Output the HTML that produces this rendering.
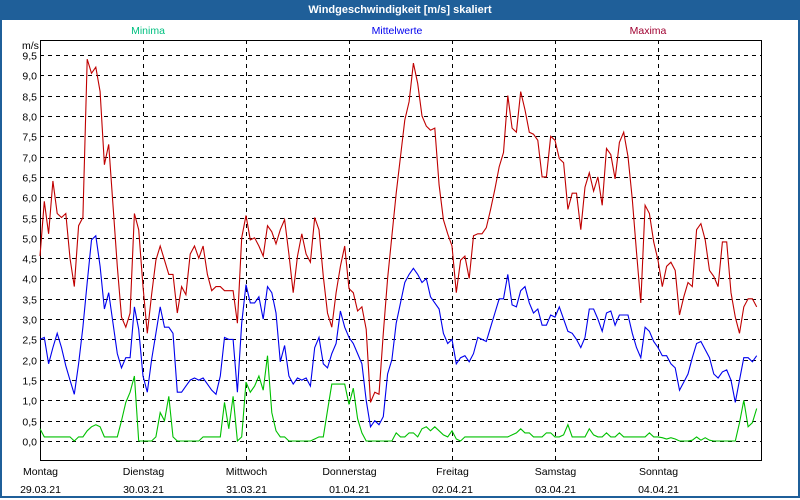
<!DOCTYPE html>
<html><head><meta charset="utf-8"><style>
body{margin:0;width:800px;height:500px;overflow:hidden;background:#fff;font-family:"Liberation Sans",sans-serif}
#frame{position:absolute;left:0;top:0;width:796px;height:496px;border:2px solid #1f5f99;border-top:none}
#titlebar{position:absolute;left:0;top:0;width:800px;height:20px;background:#1f5f99;color:#fff;font-weight:bold;font-size:11px;text-align:center;line-height:20px}
svg{position:absolute;left:0;top:0}
</style></head><body>
<div id="frame"></div>
<div id="titlebar">Windgeschwindigkeit [m/s] skaliert</div>
<svg id="chart" width="800" height="500"></svg>
<script>
const days=["Montag","Dienstag","Mittwoch","Donnerstag","Freitag","Samstag","Sonntag"];
const dates=["29.03.21","30.03.21","31.03.21","01.04.21","02.04.21","03.04.21","04.04.21"];
const yTicks=[0,0.5,1,1.5,2,2.5,3,3.5,4,4.5,5,5.5,6,6.5,7,7.5,8,8.5,9,9.5];
const maxima=[4.55,5.9,5.1,6.4,5.6,5.5,5.6,4.5,3.8,5.3,5.5,9.4,9.05,9.2,8.6,6.8,7.3,5.8,4.3,3.05,2.8,3.15,5.6,5.2,
3.8,2.65,3.6,4.45,4.8,4.45,4.1,4.1,3.15,3.8,3.6,4.6,4.8,4.5,4.8,4.1,3.7,3.8,3.8,3.7,3.7,3.7,2.9,5.0,
5.55,4.95,5.0,4.8,4.55,5.3,5.15,4.85,5.2,5.45,4.6,3.65,4.55,5.1,4.6,4.4,5.5,5.2,4.05,3.15,2.8,3.65,4.3,4.8,
3.75,3.65,3.2,3.3,2.75,0.95,1.2,1.15,2.65,4.0,5.05,6.1,7.0,7.9,8.35,9.3,8.8,8.0,7.75,7.65,7.7,6.3,5.45,5.1,
4.8,3.65,4.45,4.55,4.0,5.05,5.1,5.1,5.25,5.7,6.2,6.75,7.1,8.5,7.7,7.6,8.6,8.15,7.6,7.55,7.4,6.5,6.5,7.5,
7.4,6.95,6.85,5.7,6.1,6.1,5.2,6.25,6.6,6.15,6.5,5.8,7.2,7.05,6.45,7.35,7.6,7.0,5.95,4.65,3.4,5.8,5.6,4.9,
4.45,3.8,4.3,4.4,4.2,3.1,3.55,3.9,3.8,5.2,5.35,4.95,4.2,4.05,3.8,4.9,4.9,3.65,3.05,2.65,3.3,3.5,3.5,3.3];
const mittel=[2.5,2.55,1.9,2.3,2.65,2.3,1.85,1.5,1.15,1.9,2.8,3.9,4.95,5.05,4.3,3.25,3.65,2.9,2.15,1.8,2.05,2.05,3.3,2.75,
1.6,1.2,2.0,2.65,3.3,2.8,2.8,2.65,1.2,1.2,1.35,1.5,1.55,1.5,1.55,1.4,1.25,1.15,1.6,2.55,2.5,2.5,1.2,2.9,
3.85,3.4,3.4,3.55,3.0,3.8,3.65,3.15,1.95,2.35,1.6,1.4,1.55,1.5,1.55,1.35,2.3,2.55,1.9,1.8,2.15,2.4,3.2,2.8,
2.55,2.4,2.15,1.9,1.0,0.35,0.5,0.4,0.6,1.65,2.0,2.9,3.4,3.9,4.1,4.25,4.1,3.9,4.0,3.55,3.4,3.25,2.65,2.4,
2.5,1.9,2.05,2.1,1.95,2.15,2.55,2.5,2.45,2.8,3.15,3.5,3.5,4.1,3.35,3.3,3.7,3.8,3.4,3.15,3.25,2.85,2.85,3.1,
3.05,3.3,3.0,2.7,2.65,2.5,2.3,2.55,3.25,3.25,3.0,2.7,3.15,3.2,2.85,3.1,3.1,3.1,2.65,2.3,2.05,2.8,2.7,2.45,
2.3,2.1,2.1,1.9,1.8,1.25,1.45,1.65,2.05,2.4,2.45,2.25,2.05,1.65,1.55,1.7,1.75,1.5,0.95,1.5,2.05,2.05,1.95,2.1];
const minima=[0.3,0.1,0.1,0.1,0.1,0.1,0.1,0.1,0,0.1,0.1,0.25,0.35,0.4,0.35,0.1,0.1,0.1,0.1,0.5,0.95,1.2,1.6,0,
0,0,0,0.1,0.7,0.5,1.1,0.1,0,0,0,0,0,0,0.1,0.1,0.1,0.1,0.1,0.95,0.3,1.1,0,0.1,
1.45,1.2,1.35,1.6,1.25,2.1,0.7,0.25,0.1,0.1,0,0,0,0,0,0,0.05,0.1,0.1,0.75,1.4,1.4,1.4,1.4,
0.9,1.3,0.55,0.2,0,0,0,0,0,0,0,0.2,0.1,0.1,0.2,0.2,0.1,0.3,0.35,0.25,0.35,0.25,0.15,0.1,
0.25,0.05,0,0.1,0.1,0.1,0.1,0.1,0.1,0.1,0.1,0.1,0.1,0.1,0.15,0.2,0.3,0.2,0.2,0.1,0.1,0.1,0.2,0.2,
0.1,0.1,0.15,0.4,0.1,0.1,0.1,0.1,0.3,0.15,0.1,0.1,0.2,0.1,0.1,0.2,0.1,0.1,0.1,0.1,0.1,0.1,0.2,0.1,
0.1,0.08,0.05,0.08,0.05,0,0,0,0.02,0.1,0.02,0.08,0.02,0,0,0,0,0,0,0.45,1.0,0.35,0.45,0.8];
const NS="http://www.w3.org/2000/svg";
const svg=document.getElementById('chart');
const L=40,R=761,T=40,B=460;
const hourW=103/24;
function xs(i){return L+i*hourW;}
function ys(v){return 441-v*40.63;}
function mk(tag,attrs,parent){const e=document.createElementNS(NS,tag);for(const k in attrs)e.setAttribute(k,attrs[k]);(parent||svg).appendChild(e);return e;}
// grid
yTicks.forEach(v=>{
 const y=Math.round(ys(v))+0.5;
 const g=mk('line',{x1:L,x2:R,y1:y,y2:y,stroke:'#000','stroke-dasharray':'4,4'});
 
 
 const t=mk('text',{x:37,y:y+4,'text-anchor':'end','font-size':'10.5',fill:'#000'});
 t.textContent=v.toFixed(1).replace('.',',');
 
 
});
days.forEach((d,i)=>{
 const x=Math.round(L+i*103)+0.5;
 if(i>0){
  const g=mk('line',{x1:x,x2:x,y1:T,y2:B,stroke:'#000','stroke-dasharray':'4,4'});
  
  
 }
 const t=mk('text',{x:x,y:475,'text-anchor':'middle','font-size':'10.5',fill:'#000'});
 t.textContent=d;
 
 
 const t2=mk('text',{x:x,y:493,'text-anchor':'middle','font-size':'10.5',fill:'#000'});
 t2.textContent=dates[i];
 
 
});
const box=mk('rect',{x:L+0.5,y:T+0.5,width:R-L,height:B-T,fill:'none',stroke:'#000'});


const unit=mk('text',{x:22,y:49,'font-size':'10.5',fill:'#000'});
unit.textContent='m/s';


function series(arr,color,name){
 const p=mk('polyline',{points:arr.map((v,i)=>xs(i).toFixed(1)+','+ys(v).toFixed(1)).join(' '),fill:'none',stroke:color,'stroke-width':'1.1'});
 
 
}
series(minima,'#00c000','minima-line');
series(mittel,'#0000ee','mittelwerte-line');
series(maxima,'#c00000','maxima-line');
[["Minima",148,'#00c080'],["Mittelwerte",397,'#0000ee'],["Maxima",648,'#a00030']].forEach(([s,x,c])=>{
 const t=mk('text',{x:x,y:34,'text-anchor':'middle','font-size':'10.5',fill:c});
 t.textContent=s;
 
 
});
</script>
</body></html>
